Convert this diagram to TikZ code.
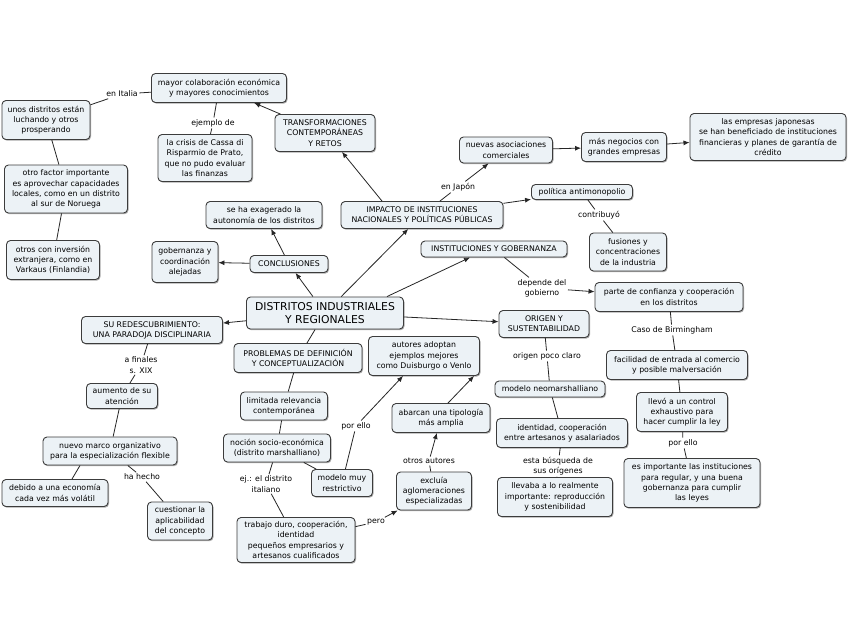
\documentclass[tikz,border=0pt]{standalone}
\usepackage{fontspec}
\setmainfont{DejaVu Sans}
\usetikzlibrary{arrows.meta,shadows}
\definecolor{boxfill}{RGB}{236,242,246}
\definecolor{boxline}{RGB}{60,60,60}
\newcommand\cmfs{\fontsize{7.8}{10.2}\selectfont}
\newcommand\cmbig{\fontsize{10.8}{12.6}\selectfont}
\tikzset{
  box/.style={draw=boxline, fill=boxfill, rounded corners=4pt, line width=0.9pt,
    align=center, font=\cmfs, inner xsep=2.5pt, inner ysep=2pt,
    drop shadow={shadow xshift=1pt, shadow yshift=-1.2pt, fill=black!55, opacity=0.6}},
  sz/.style 2 args={minimum width=#1, minimum height=#2},
  lab/.style={align=center, font=\cmfs, inner sep=1.5pt},
  con/.style={draw=black!85, line width=0.8pt},
  arr/.style={con, -{Latex[length=6pt,width=5pt]}},
}
\begin{document}
\begin{tikzpicture}[x=1pt,y=1pt]
\fill[white] (0,0) rectangle (848,-638);
\useasboundingbox (0,0) rectangle (848,-638);
% nodes
\node[box,sz={135}{29}] (n1) at (219,-88) {mayor colaboración económica\\y mayores conocimientos};
\node[box,sz={88}{39}] (n2) at (46,-120) {unos distritos están\\luchando y otros\\prosperando};
\node[box,sz={123}{48}] (n3) at (66,-189) {otro factor importante\\es aprovechar capacidades\\locales, como en un distrito\\al sur de Noruega};
\node[box,sz={93}{39}] (n4) at (53,-260) {otros con inversión\\extranjera, como en\\Varkaus (Finlandia)};
\node[box,sz={94}{47}] (n5) at (205,-158) {la crisis de Cassa di\\Risparmio de Prato,\\que no pudo evaluar\\las finanzas};
\node[box,sz={100}{37}] (n6) at (325,-133) {TRANSFORMACIONES\\CONTEMPORÁNEAS\\Y RETOS};
\node[box,sz={116}{27}] (n7) at (264,-215) {se ha exagerado la\\autonomía de los distritos};
\node[box,sz={66}{41}] (n8) at (185,-262) {gobernanza y\\coordinación\\alejadas};
\node[box,sz={78}{17}] (n9) at (289,-264) {CONCLUSIONES};
\node[box,sz={157}{32},font=\cmbig] (n10) at (325,-313) {DISTRITOS INDUSTRIALES\\Y REGIONALES};
\node[box,sz={162}{27}] (n11) at (422,-215) {IMPACTO DE INSTITUCIONES\\NACIONALES Y POLÍTICAS PÚBLICAS};
\node[box,sz={93}{26}] (n12) at (506,-150) {nuevas asociaciones\\comerciales};
\node[box,sz={85}{29}] (n13) at (624,-147) {más negocios con\\grandes empresas};
\node[box,sz={156}{47}] (n14) at (768,-137) {las empresas japonesas\\se han beneficiado de instituciones\\financieras y planes de garantía de\\crédito};
\node[box,sz={101}{15}] (n15) at (582,-192) {política antimonopolio};
\node[box,sz={77}{38}] (n16) at (628,-252) {fusiones y\\concentraciones\\de la industria};
\node[box,sz={146}{16}] (n17) at (494,-249) {INSTITUCIONES Y GOBERNANZA};
\node[box,sz={148}{29}] (n18) at (669,-297) {parte de confianza y cooperación\\en los distritos};
\node[box,sz={90}{27}] (n19) at (544,-324) {ORIGEN Y\\SUSTENTABILIDAD};
\node[box,sz={110}{16}] (n20) at (550,-389) {modelo neomarshalliano};
\node[box,sz={131}{29}] (n21) at (562,-433) {identidad, cooperación\\entre artesanos y asalariados};
\node[box,sz={115}{39}] (n22) at (555,-497) {llevaba a lo realmente\\importante: reproducción\\y sostenibilidad};
\node[box,sz={141}{29}] (n23) at (677,-365) {facilidad de entrada al comercio\\y posible malversación};
\node[box,sz={91}{39}] (n24) at (682,-412) {llevó a un control\\exhaustivo para\\hacer cumplir la ley};
\node[box,sz={136}{49}] (n25) at (692,-483) {es importante las instituciones\\para regular, y una buena\\gobernanza para cumplir\\las leyes};
\node[box,sz={111}{39}] (n26) at (424,-356) {autores adoptan\\ejemplos mejores\\como Duisburgo o Venlo};
\node[box,sz={98}{29}] (n27) at (441,-418) {abarcan una tipología\\más amplia};
\node[box,sz={75}{38}] (n28) at (434,-491) {excluía\\aglomeraciones\\especializadas};
\node[box,sz={141}{27}] (n29) at (152,-330) {SU REDESCUBRIMIENTO:\\UNA PARADOJA DISCIPLINARIA};
\node[box,sz={71}{25}] (n30) at (122,-396) {aumento de su\\atención};
\node[box,sz={134}{28}] (n31) at (110,-451) {nuevo marco organizativo\\para la especialización flexible};
\node[box,sz={106}{27}] (n32) at (55,-493) {debido a una economía\\cada vez más volátil};
\node[box,sz={65}{38}] (n33) at (180,-521) {cuestionar la\\aplicabilidad\\del concepto};
\node[box,sz={128}{29}] (n34) at (298,-358) {PROBLEMAS DE DEFINICIÓN\\Y CONCEPTUALIZACIÓN};
\node[box,sz={87}{28}] (n35) at (284,-406) {limitada relevancia\\contemporánea};
\node[box,sz={107}{28}] (n36) at (277,-448) {noción socio-económica\\(distrito marshalliano)};
\node[box,sz={61}{27}] (n37) at (342,-483) {modelo muy\\restrictivo};
\node[box,sz={118}{45}] (n38) at (296,-540) {trabajo duro, cooperación,\\identidad\\pequeños empresarios y\\artesanos cualificados};
% link labels
\node[lab] (l1) at (122,-94) {en Italia};
\node[lab] (l2) at (213,-123) {ejemplo de};
\node[lab] (l3) at (458,-187) {en Japón};
\node[lab] (l4) at (599,-215) {contribuyó};
\node[lab] (l5) at (542,-288) {depende del\\gobierno};
\node[lab] (l6) at (672,-330) {Caso de Birmingham};
\node[lab] (l7) at (547,-356) {origen poco claro};
\node[lab] (l8) at (558,-466) {esta búsqueda de\\sus orígenes};
\node[lab] (l9) at (683,-443) {por ello};
\node[lab] (l10) at (141,-365) {a finales\\s. XIX};
\node[lab] (l11) at (142,-477) {ha hecho};
\node[lab] (l12) at (356,-426) {por ello};
\node[lab] (l13) at (266,-484) {ej.: el distrito\\italiano};
\node[lab] (l14) at (376,-522) {pero};
\node[lab] (l15) at (429,-461) {otros autores};
% connectors
\draw[arr] (n10) -- (n9);
\draw[arr] (n9) -- (n7);
\draw[arr] (n9) -- (n8);
\draw[arr] (n10) -- (n11);
\draw[arr] ([xshift=-40pt]n11.north) -- ([xshift=17pt]n6.south);
\draw[arr] (n6) -- (n1);
\draw[con] (n1) -- (l1); \draw[con] (l1) -- (n2);
\draw[con] (n1) -- (l2); \draw[con] (l2) -- (n5);
\draw[con] (n2) -- (n3);
\draw[con] (n3) -- (n4);
\draw[con] (n11) -- (l3); \draw[arr] (l3) -- (n12);
\draw[arr] (n12) -- (n13);
\draw[arr] (n13) -- (n14);
\draw[arr] (n11) -- (n15);
\draw[con] (n15) -- (l4); \draw[con] (l4) -- (n16);
\draw[arr] ([xshift=62pt]n10.north) -- ([xshift=-24pt]n17.south);
\draw[con] (n17) -- (l5); \draw[arr] (l5) -- (n18);
\draw[arr] (n10) -- (n19);
\draw[con] (n19) -- (l7); \draw[con] (l7) -- (n20);
\draw[con] (n20) -- (n21);
\draw[con] (n21) -- (l8); \draw[con] (l8) -- (n22);
\draw[con] (n18) -- (l6); \draw[con] (l6) -- (n23);
\draw[con] (n23) -- (n24);
\draw[con] (n24) -- (l9); \draw[con] (l9) -- (n25);
\draw[arr] (n10) -- (n29);
\draw[con] (n29) -- (l10); \draw[con] (l10) -- (n30);
\draw[con] (n30) -- (n31);
\draw[con] ([xshift=-30pt]n31.south) -- ([xshift=17pt]n32.north);
\draw[con] (n31) -- (l11); \draw[con] (l11) -- (n33);
\draw[con] (n10) -- (n34);
\draw[con] (n34) -- (n35);
\draw[con] (n35) -- (n36);
\draw[con] (n36) -- (n37);
\draw[con] (n36) -- (l13); \draw[con] (l13) -- (n38);
\draw[con] (n37) -- (l12); \draw[arr] (l12) -- ([xshift=-21pt]n26.south);
\draw[con] (n38) -- (l14); \draw[arr] (l14) -- (n28);
\draw[con] (n28) -- (l15); \draw[arr] (l15) -- (n27);
\draw[arr] ([xshift=7pt]n27.north) -- ([xshift=50pt]n26.south);
\end{tikzpicture}
\end{document}
